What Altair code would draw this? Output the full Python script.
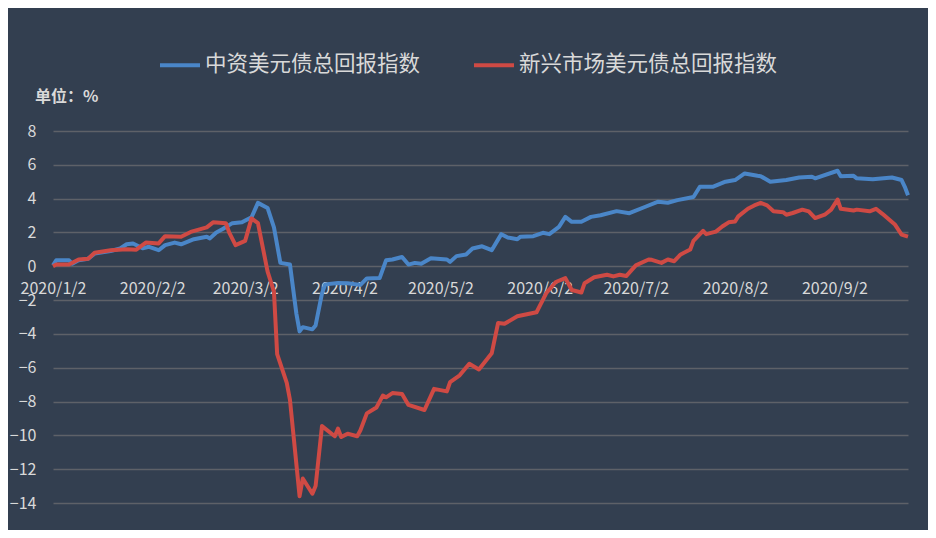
import altair as alt
import pandas as pd

BLUE_NAME = "中资美元债总回报指数"
RED_NAME = "新兴市场美元债总回报指数"

blue_dates = [
    "2020/1/2", "2020/1/3", "2020/1/7", "2020/1/8", "2020/1/10", "2020/1/13", "2020/1/15", "2020/1/20",
    "2020/1/23", "2020/1/25", "2020/1/27", "2020/1/30",
    "2020/2/1", "2020/2/4", "2020/2/6", "2020/2/9", "2020/2/11", "2020/2/15", "2020/2/19", "2020/2/20",
    "2020/2/22", "2020/2/24", "2020/2/27",
    "2020/3/1", "2020/3/4", "2020/3/6", "2020/3/9", "2020/3/11", "2020/3/13", "2020/3/16", "2020/3/18",
    "2020/3/19", "2020/3/20", "2020/3/23", "2020/3/24", "2020/3/26", "2020/3/27", "2020/3/31",
    "2020/4/3", "2020/4/7", "2020/4/9", "2020/4/13", "2020/4/15", "2020/4/17", "2020/4/20", "2020/4/22",
    "2020/4/24", "2020/4/26", "2020/4/29",
    "2020/5/4", "2020/5/5", "2020/5/7", "2020/5/10", "2020/5/12", "2020/5/15", "2020/5/18", "2020/5/21",
    "2020/5/23", "2020/5/26", "2020/5/27", "2020/5/31",
    "2020/6/3", "2020/6/5", "2020/6/8", "2020/6/10", "2020/6/12", "2020/6/15", "2020/6/18", "2020/6/21",
    "2020/6/26", "2020/6/30",
    "2020/7/5", "2020/7/9", "2020/7/12", "2020/7/15", "2020/7/20", "2020/7/22", "2020/7/26", "2020/7/30",
    "2020/8/2", "2020/8/5", "2020/8/9", "2020/8/10", "2020/8/13", "2020/8/18", "2020/8/22", "2020/8/26",
    "2020/8/27",
    "2020/9/3", "2020/9/4", "2020/9/8", "2020/9/9", "2020/9/14", "2020/9/20", "2020/9/23", "2020/9/24",
    "2020/9/25",
]
blue_values = [
    0.05, 0.35, 0.35, 0.15, 0.35, 0.45, 0.75, 0.9, 1.05, 1.3, 1.35, 1.07,
    1.15, 0.95, 1.25, 1.4, 1.3, 1.6, 1.75, 1.65, 2.0, 2.2, 2.55,
    2.6, 2.9, 3.75, 3.45, 2.3, 0.2, 0.1, -2.8, -3.85, -3.6, -3.73, -3.5, -1.6, -1.07, -0.99,
    -1.0, -1.1, -0.72, -0.7, 0.35, 0.4, 0.55, 0.1, 0.2, 0.15, 0.47,
    0.4, 0.26, 0.6, 0.7, 1.05, 1.18, 0.95, 1.9, 1.7, 1.6, 1.75, 1.78,
    1.98, 1.9, 2.33, 2.92, 2.63, 2.63, 2.92, 3.02, 3.26, 3.14,
    3.52, 3.82, 3.76, 3.91, 4.1, 4.7, 4.7, 5.0,
    5.1, 5.49, 5.35, 5.33, 5.0, 5.1, 5.25, 5.3, 5.2,
    5.65, 5.33, 5.35, 5.2, 5.15, 5.25, 5.1, 4.7, 4.2,
]

red_dates = [
    "2020/1/2", "2020/1/3", "2020/1/7", "2020/1/10", "2020/1/13", "2020/1/15", "2020/1/20", "2020/1/25",
    "2020/1/28", "2020/1/31",
    "2020/2/4", "2020/2/6", "2020/2/11", "2020/2/14", "2020/2/19", "2020/2/21", "2020/2/25", "2020/2/26",
    "2020/2/28",
    "2020/3/2", "2020/3/4", "2020/3/6", "2020/3/9", "2020/3/11", "2020/3/12", "2020/3/15", "2020/3/16",
    "2020/3/19", "2020/3/20", "2020/3/23", "2020/3/24", "2020/3/26", "2020/3/30", "2020/3/31",
    "2020/4/1", "2020/4/3", "2020/4/6", "2020/4/7", "2020/4/9", "2020/4/12", "2020/4/14", "2020/4/15",
    "2020/4/17", "2020/4/20", "2020/4/22", "2020/4/27", "2020/4/30",
    "2020/5/4", "2020/5/5", "2020/5/8", "2020/5/11", "2020/5/14", "2020/5/18", "2020/5/20", "2020/5/22",
    "2020/5/26",
    "2020/6/1", "2020/6/4", "2020/6/7", "2020/6/10", "2020/6/12", "2020/6/15", "2020/6/16", "2020/6/19",
    "2020/6/23", "2020/6/25", "2020/6/27", "2020/6/29",
    "2020/7/2", "2020/7/6", "2020/7/7", "2020/7/10", "2020/7/12", "2020/7/14", "2020/7/16", "2020/7/19",
    "2020/7/20", "2020/7/23", "2020/7/24", "2020/7/27", "2020/7/29", "2020/7/31",
    "2020/8/2", "2020/8/3", "2020/8/6", "2020/8/8", "2020/8/10", "2020/8/12", "2020/8/14", "2020/8/17",
    "2020/8/18", "2020/8/20", "2020/8/23", "2020/8/25", "2020/8/27", "2020/8/30",
    "2020/9/1", "2020/9/3", "2020/9/4", "2020/9/8", "2020/9/9", "2020/9/13", "2020/9/15", "2020/9/17",
    "2020/9/21", "2020/9/23", "2020/9/25",
]
red_values = [
    0.0, 0.1, 0.1, 0.4, 0.45, 0.8, 0.95, 1.0, 0.98, 1.4,
    1.35, 1.78, 1.75, 2.03, 2.3, 2.6, 2.55, 2.0, 1.25,
    1.5, 2.83, 2.55, -0.3, -1.5, -5.2, -6.9, -7.9, -13.6, -12.55, -13.45, -13.0, -9.45, -10.05, -9.6,
    -10.1, -9.9, -10.05, -9.7, -8.7, -8.35, -7.65, -7.75, -7.5, -7.55, -8.2, -8.5, -7.25,
    -7.4, -6.85, -6.45, -5.77, -6.1, -5.15, -3.35, -3.4, -2.96,
    -2.72, -1.6, -0.93, -0.7, -1.4, -1.55, -1.0, -0.65, -0.5, -0.6, -0.5, -0.58,
    0.05, 0.4, 0.38, 0.2, 0.4, 0.3, 0.7, 0.99, 1.5, 2.1, 1.9, 2.05, 2.35, 2.6,
    2.65, 2.95, 3.4, 3.6, 3.75, 3.6, 3.25, 3.2, 3.05, 3.15, 3.35, 3.25, 2.85, 3.05,
    3.35, 3.95, 3.4, 3.3, 3.35, 3.25, 3.4, 3.1, 2.45, 1.87, 1.75,
]

y_ticks = [-14, -12, -10, -8, -6, -4, -2, 0, 2, 4, 6, 8]
x_tick_months = [1, 2, 3, 4, 5, 6, 7, 8, 9]
unit_label = ["单位：%"]

BLUE = "#4A86C8"
RED = "#CF4A44"
BG = "#333F50"
TEXT = "#D9D9D9"
GRID = "#5E6168"
FONT = "Noto Sans CJK SC"

blue_df = pd.DataFrame({"date": blue_dates, "value": blue_values, "series": BLUE_NAME})
red_df = pd.DataFrame({"date": red_dates, "value": red_values, "series": RED_NAME})

color_scale = alt.Scale(domain=[BLUE_NAME, RED_NAME], range=[BLUE, RED])

x_enc = alt.X(
    "date:T",
    scale=alt.Scale(domain=[alt.DateTime(year=2020, month=1, date=2),
                            alt.DateTime(year=2020, month=9, date=25)]),
    axis=alt.Axis(
        values=[alt.DateTime(year=2020, month=m, date=2) for m in x_tick_months],
        labelExpr="timeFormat(datum.value, '%Y/%-m/%-d')",
        title=None, domain=False, ticks=False, tickSize=0, grid=False,
        offset=-236.7, labelPadding=14, labelFontSize=16, labelColor=TEXT,
        labelFont=FONT, labelFlush=False, labelOverlap=False,
    ),
)
y_enc = alt.Y(
    "value:Q",
    scale=alt.Scale(domain=[-14, 8], nice=False, zero=False),
    axis=alt.Axis(
        values=y_ticks, title=None, domain=False, ticks=False, labelPadding=17,
        labelFontSize=16, labelColor=TEXT, labelFont=FONT,
        gridColor=GRID, gridWidth=1.5,
    ),
)
color_enc = alt.Color(
    "series:N", scale=color_scale,
    legend=alt.Legend(
        title=None, orient="none", legendX=105, legendY=-88, direction="horizontal",
        symbolType="stroke", symbolSize=1600, symbolStrokeWidth=4,
        labelFontSize=21.5, labelColor=TEXT, labelFont=FONT, labelLimit=500,
        columnPadding=45, labelOffset=3,
    ),
)

blue_line = alt.Chart(blue_df).mark_line(strokeWidth=4, strokeJoin="round").encode(
    x=x_enc, y=y_enc, color=color_enc
)
red_line = alt.Chart(red_df).mark_line(strokeWidth=4, strokeJoin="round").encode(
    x=x_enc, y=y_enc, color=color_enc
)
unit = alt.Chart(pd.DataFrame({"t": unit_label})).mark_text(
    align="left", baseline="middle", fontSize=16, fontWeight="bold", color=TEXT, font=FONT
).encode(text="t:N", x=alt.value(-18), y=alt.value(-34))

chart = alt.layer(blue_line, red_line, unit).properties(
    width=855, height=372,
    autosize=alt.AutoSizeParams(type="none"),
    padding={"left": 45, "top": 123, "right": 20, "bottom": 27},
).configure(background=BG).configure_view(stroke=None)

chart.save("out.html", embed_options={"renderer": "svg", "actions": False})
